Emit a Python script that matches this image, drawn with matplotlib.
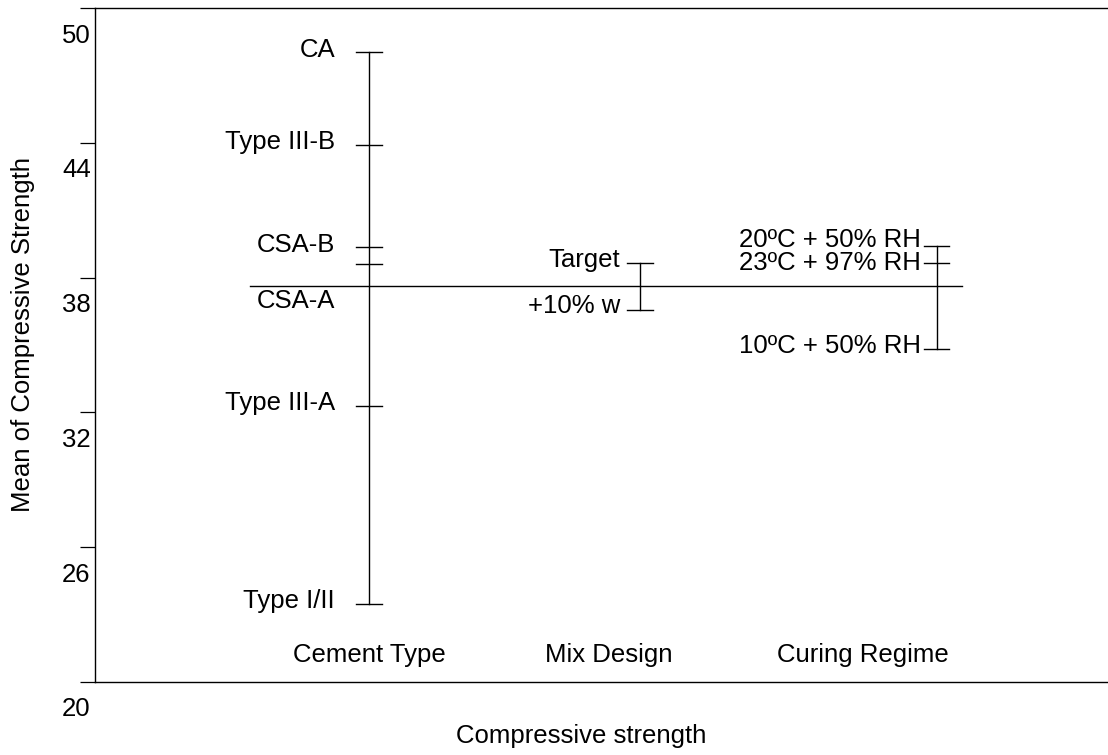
import matplotlib
matplotlib.use("Agg")
import matplotlib.pyplot as plt
from matplotlib.transforms import ScaledTranslation

plt.rcParams.update({
    "font.family": ["Liberation Sans", "DejaVu Sans"],
    "font.size": 18.5,
})

# ── Data ─────────────────────────────────────────────────────────────────────
GRAND_MEAN = 37.63

cement_levels = ["CA", "Type III-B", "CSA-B", "CSA-A", "Type III-A", "Type I/II"]
cement_means = [48.03, 43.90, 39.36, 38.60, 32.28, 23.49]

mix_levels = ["Target", "+10% w"]
mix_means = [38.66, 36.56]

curing_levels = ["20ºC + 50% RH", "23ºC + 97% RH", "10ºC + 50% RH"]
curing_means = [39.42, 38.64, 34.81]

factor_names = ["Cement Type", "Mix Design", "Curing Regime"]
y_ticks = [20, 26, 32, 38, 44, 50]

# ── Layout (positions in axis units, nudges in pixels) ───────────────────────
factor_x = [2.705, 5.38, 8.31]
name_x = [2.71, 5.07, 7.58]
label_dx = [-34, -20, -16]
cement_dy = [-5, -4, -5, -44, -4, -4]
mix_dy = [-4, -3]
curing_dy = [-1, -7, -4]
CAP = 0.125

fig = plt.figure(figsize=(11.08, 7.55), dpi=100)
ax = fig.add_axes([95 / 1108, 73 / 755, 1013 / 1108, 674 / 755])
ax.set_xlim(0, 10)
ax.set_ylim(20, 50)

ax.spines["right"].set_visible(False)
for s in ("left", "top", "bottom"):
    ax.spines[s].set_linewidth(1.0)

ax.set_xticks([])
ax.set_yticks(y_ticks)
ax.tick_params(axis="y", length=11, width=0.9, pad=0)
for lab in ax.get_yticklabels():
    lab.set_va("baseline")
    lab.set_transform(lab.get_transform() +
                      ScaledTranslation(0.11, -0.345, fig.dpi_scale_trans))

# grand mean
ax.plot([1.53, 8.56], [GRAND_MEAN, GRAND_MEAN], color="black", lw=1.0)

groups = [(cement_levels, cement_means, cement_dy),
          (mix_levels, mix_means, mix_dy),
          (curing_levels, curing_means, curing_dy)]

for (levels, means, dys), x, dx, name, nx in zip(groups, factor_x, label_dx,
                                                 factor_names, name_x):
    ax.plot([x, x], [min(means), max(means)], color="black", lw=1.0)
    for lev, m, dy in zip(levels, means, dys):
        ax.plot([x - CAP, x + CAP], [m, m], color="black", lw=1.0)
        ax.annotate(lev, xy=(x, m), xytext=(dx, dy),
                    textcoords="offset pixels", ha="right", va="baseline")
    ax.text(nx, 20.9, name, ha="center", va="baseline")

fig.text(581 / 1108, 12 / 755, "Compressive strength",
         ha="center", va="baseline")
fig.text(23 / 1108, (755 - 334) / 755, "Mean of Compressive Strength",
         rotation=90, ha="center", va="center")

fig.savefig("out.png", dpi=100)
